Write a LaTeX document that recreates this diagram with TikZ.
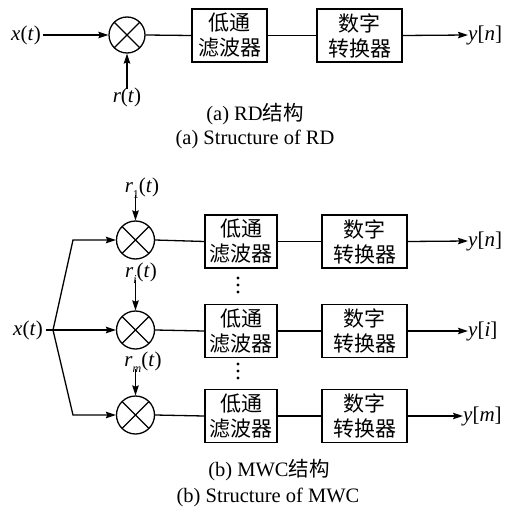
\documentclass[tikz,border=0pt]{standalone}
\usepackage{fontspec}
\setmainfont{Liberation Serif}
\newfontfamily\cjk{Noto Sans CJK SC}
\usetikzlibrary{arrows.meta,calc}
\newcommand\vv[1]{\textit{#1}}
\newcommand\sbs[1]{\raisebox{-0.28em}{\fontsize{12}{12}\selectfont #1}}
\tikzset{
  ln/.style={line width=1.3pt},
  arr/.style={ln,-{Stealth[length=10pt,width=6.5pt,inset=1.5pt]}},
  mixer/.style={circle,draw,line width=1.3pt,minimum size=#1,inner sep=0pt,
    path picture={
      \draw[line width=1.1pt] ($(path picture bounding box.center)+(135:0.5*#1)$) -- ($(path picture bounding box.center)+(-45:0.5*#1)$);
      \draw[line width=1.1pt] ($(path picture bounding box.center)+(45:0.5*#1)$) -- ($(path picture bounding box.center)+(-135:0.5*#1)$);}},
  blk/.style={draw,line width=1.3pt,minimum height=53pt,minimum width=#1,inner sep=0pt,align=center,
    font=\cjk\fontsize{21}{25}\selectfont},
  lbl/.style={font=\fontsize{21}{24}\selectfont,inner sep=0pt},
  captxt/.style={font=\fontsize{20.5}{24}\selectfont,inner sep=0pt},
  dotm/.style={circle,fill,inner sep=0pt,minimum size=3.4pt},
}
\begin{document}
\begin{tikzpicture}[x=1pt,y=-1pt]
\useasboundingbox (0,0) rectangle (518,513);
% ---------- (a) RD ----------
\node[lbl] (xa) at (26,35) {\vv{x}(\vv{t})};
\node[mixer=36pt] (ma) at (127,35) {};
\node[lbl] (ra) at (127,97) {\vv{r}(\vv{t})};
\node[blk=75pt] (la) at (229.5,35.5) {低通\\滤波器};
\node[blk=85pt] (da) at (359.5,35.5) {数字\\转换器};
\node[lbl,anchor=west] (ya) at (468,35) {\vv{y}[\vv{n}]};
\draw[arr] (xa.east) ++(2pt,0) -- (ma.west);
\draw[arr] (ra.north) ++(0,-2pt) -- (ma.south);
\draw[ln] (ma.east) -- (la.west);
\draw[ln] (la.east) -- (da.west);
\draw[arr] (da.east) -- (ya.west);
\node[captxt] (ca1) at (255,114) {(a) RD{\cjk 结构}};
\node[captxt] (ca2) at (255,139) {(a) Structure of RD};
% ---------- (b) MWC ----------
\node[lbl] (xb) at (28,330) {\vv{x}(\vv{t})};
\coordinate (sp) at (53,330);
\coordinate (b1) at (73,240);
\coordinate (b3) at (73,415);
\node[mixer=38pt] (m1) at (135.5,240) {};
\node[mixer=38pt] (m2) at (135.5,330) {};
\node[mixer=38pt] (m3) at (135.5,415) {};
\node[lbl] (r1) at (142,188) {\vv{r}\sbs{1}(\vv{t})};
\node[lbl] (r2) at (141,273) {\vv{r}\sbs{\vv{i}}(\vv{t})};
\node[lbl] (r3) at (143,362) {\vv{r}\sbs{\vv{m}}(\vv{t})};
\foreach \i/\y in {1/241.5,2/331,3/416}{
  \node[blk=72pt] (l\i) at (241,\y) {低通\\滤波器};
  \node[blk=85pt] (d\i) at (364.5,\y) {数字\\转换器};
}
\node[lbl,anchor=west] (y1) at (468,241) {\vv{y}[\vv{n}]};
\node[lbl,anchor=west] (y2) at (468,331) {\vv{y}[\vv{i}]};
\node[lbl,anchor=west] (y3) at (463,416) {\vv{y}[\vv{m}]};
\draw[ln] (xb.east) ++(3pt,0) -- (sp);
\draw[arr] (sp) -- (b1) -- (m1.west);
\draw[arr] (sp) -- (m2.west);
\draw[arr] (sp) -- (b3) -- (m3.west);
\draw[arr] (r1.south -| m1) ++(0,3pt) -- (m1.north);
\draw[arr] (r2.south -| m2) ++(0,3pt) -- (m2.north);
\draw[arr] (r3.south -| m3) ++(0,3pt) -- (m3.north);
\foreach \i in {1,2,3}{
  \draw[ln] (m\i.east) -- (l\i.west);
  \draw[ln] (l\i.east) -- (d\i.west);
}
\draw[arr] (d1.east) -- (y1.west);
\draw[arr] (d2.east) -- (y2.west);
\draw[arr] (d3.east) -- (y3.west);
\foreach \k/\y in {a/278,b/285,c/292,d/364,e/371,f/378}{
  \node[dotm] (dot\k) at (238,\y) {};
}
\node[captxt] (cb1) at (269,470) {(b) MWC{\cjk 结构}};
\node[captxt] (cb2) at (268,497) {(b) Structure of MWC};
\end{tikzpicture}
\end{document}
